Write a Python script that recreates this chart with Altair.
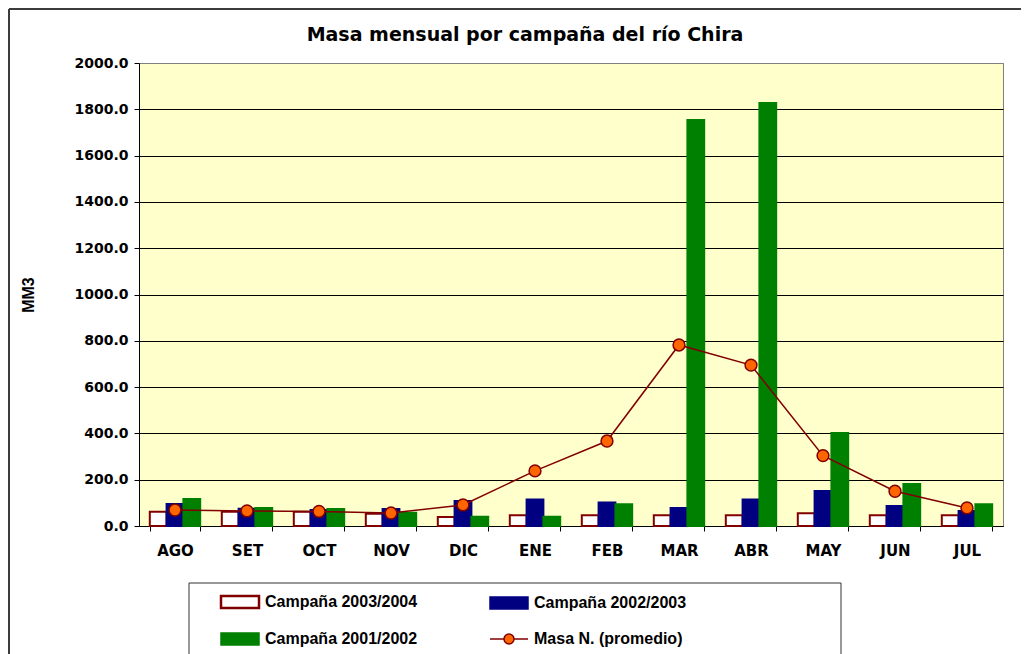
import altair as alt
import pandas as pd

meses = ["AGO", "SET", "OCT", "NOV", "DIC", "ENE", "FEB", "MAR", "ABR", "MAY", "JUN", "JUL"]
campana_2003_2004 = [62, 62, 62, 53, 39, 46, 46, 46, 46, 55, 46, 46]
campana_2002_2003 = [95, 75, 69, 73, 108, 114, 101, 78, 115, 151, 86, 65]
campana_2001_2002 = [117, 78, 73, 57, 40, 40, 94, 1754, 1827, 402, 181, 94]
masa_promedio = [69, 65, 63, 56, 91, 238, 367, 782, 695, 304, 150, 78]

titulo = "Masa mensual por campaña del río Chira"
series_barras = ["Campaña 2003/2004", "Campaña 2002/2003", "Campaña 2001/2002"]
serie_linea = "Masa N. (promedio)"
todas_series = series_barras + [serie_linea]
rellenos = ["#FFFFFF", "#000080", "#008000", "#FF6600"]
bordes = ["#800000", "#000080", "#008000"]

filas = []
for serie, valores in zip(series_barras, [campana_2003_2004, campana_2002_2003, campana_2001_2002]):
    for m, v in zip(meses, valores):
        filas.append({"mes": m, "serie": serie, "valor": v})
barras_df = pd.DataFrame(filas)
linea_df = pd.DataFrame({"mes": meses, "serie": serie_linea, "valor": masa_promedio})
marco_df = pd.DataFrame({"k": [0]})

x_enc = alt.X(
    "mes:N", sort=meses,
    scale=alt.Scale(paddingInner=0.3, paddingOuter=0.15),
    axis=alt.Axis(title=None, labelAngle=0, tickBand="extent", tickSize=5, tickColor="black",
                  domainColor="black", labelFont="DejaVu Sans", labelFontWeight="bold",
                  labelFontSize=15, labelColor="black", labelPadding=12, grid=False),
)
y_enc = alt.Y(
    "valor:Q", scale=alt.Scale(domain=[0, 2000], nice=False),
    axis=alt.Axis(title="MM3", values=list(range(0, 2001, 200)), format=".1f", grid=True,
                  gridColor={"expr": "datum.value >= 2000 ? '#808080' : 'black'"},
                  gridWidth=1, domainColor="black", tickColor="black",
                  tickSize=5, labelFont="DejaVu Sans", labelFontWeight="bold", labelFontSize=14,
                  labelColor="black", labelPadding=6, titleFont="Liberation Sans",
                  titleFontSize=16, titleFontWeight="bold", titleColor="black", titlePadding=37),
)

rect_path = "M-1.9,-0.6H1.9V0.6H-1.9Z"
line_path = ("M-1.9,0H-0.5 M0.5,0H1.9 M0.5,0 A0.5,0.5 0 1,1 -0.5,0 "
             "A0.5,0.5 0 1,1 0.5,0 Z")
es_linea = "datum.value === '" + serie_linea + "'"
leyenda = alt.Legend(
    title=None, orient="none", legendX=50, legendY=522, columns=2, direction="horizontal",
    symbolSize=400, symbolOffset=34, labelOffset=17, columnPadding=49, rowPadding=17,
    padding=9, gridAlign="each",
    labelFont="Liberation Sans", labelFontSize=16, labelFontWeight="bold", labelColor="black",
    labelLimit=0,
    symbolType={"expr": es_linea + " ? '" + line_path + "' : '" + rect_path + "'"},
    symbolStrokeColor={"expr": "datum.value === 'Campaña 2002/2003' ? '#000080' : "
                               "datum.value === 'Campaña 2001/2002' ? '#008000' : '#800000'"},
    symbolStrokeWidth={"expr": "datum.value === 'Campaña 2003/2004' ? 2.5 : 1.5"},
    symbolOpacity=1,
)

# chart frame (top and left edges; the rest falls outside the picture) and legend box
marco_sup = alt.Chart(marco_df).mark_rule(color="#3c3c3c", strokeWidth=2).encode(
    x=alt.value(-130), x2=alt.value(882), y=alt.value(-54)
)
marco_izq = alt.Chart(marco_df).mark_rule(color="#3c3c3c", strokeWidth=2).encode(
    x=alt.value(-130), y=alt.value(-54), y2=alt.value(600)
)
caja_leyenda = alt.Chart(marco_df).mark_rect(fill="white", stroke="#333333", strokeWidth=1).encode(
    x=alt.value(50), x2=alt.value(702), y=alt.value(520), y2=alt.value(610)
)
texto_titulo = alt.Chart(marco_df).mark_text(
    font="DejaVu Sans", fontSize=19, fontWeight="bold", color="black",
    align="center", baseline="middle"
).encode(x=alt.value(386), y=alt.value(-28), text=alt.value(titulo))

barras = alt.Chart(barras_df).mark_bar(strokeWidth=2).encode(
    x=x_enc,
    xOffset=alt.XOffset("serie:N", sort=series_barras,
                        scale=alt.Scale(domain=series_barras, paddingInner=0, paddingOuter=0)),
    y=y_enc,
    fill=alt.Fill("serie:N", scale=alt.Scale(domain=todas_series, range=rellenos), legend=leyenda),
    stroke=alt.Stroke("serie:N", scale=alt.Scale(domain=series_barras, range=bordes), legend=None),
)

linea = alt.Chart(linea_df).mark_line(color="#800000", strokeWidth=1.5).encode(x=x_enc, y=y_enc)
puntos = alt.Chart(linea_df).mark_point(filled=True, fill="#FF6600", stroke="#800000",
                                        strokeWidth=1.5, size=140, opacity=1).encode(x=x_enc, y=y_enc)

chart = alt.layer(marco_sup, marco_izq, caja_leyenda, texto_titulo, barras, linea, puntos).properties(
    width=864, height=463,
    padding={"left": 0, "top": 0, "right": 0, "bottom": 0},
    background="white",
).resolve_scale(fill="independent", stroke="independent").configure_view(
    stroke="#808080", fill="#FFFFCC"
)

chart.save("out.html", embed_options={"renderer": "svg", "actions": False})
